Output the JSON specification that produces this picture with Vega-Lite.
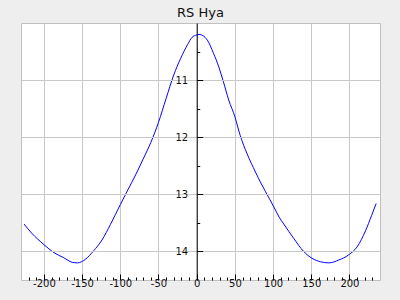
{
  "$schema": "https://vega.github.io/schema/vega-lite/v6.json",
  "autosize": {"type": "none"},
  "padding": {"left": 21, "top": 23, "right": 20, "bottom": 20},
  "width": 359,
  "height": 257,
  "background": "#eeeeee",
  "title": {"text": "RS Hya", "fontSize": 13, "font": "DejaVu Sans", "fontWeight": "normal", "color": "#111111", "baseline": "bottom", "offset": 0, "dy": 10},
  "config": {
    "view": {"fill": "white", "stroke": "#c0c0c0", "strokeWidth": 1},
    "axis": {"labelFont": "DejaVu Sans", "labelFontSize": 10, "labelColor": "#111111", "tickColor": "#000000", "gridColor": "#c8c8c8", "title": null}
  },
  "data": {"values": [
    {"phase": -226, "mag": 13.52},
    {"phase": -216, "mag": 13.68},
    {"phase": -200, "mag": 13.88},
    {"phase": -187, "mag": 14.02},
    {"phase": -174, "mag": 14.11},
    {"phase": -163, "mag": 14.19},
    {"phase": -156, "mag": 14.2},
    {"phase": -146, "mag": 14.14},
    {"phase": -135, "mag": 13.99},
    {"phase": -124, "mag": 13.8},
    {"phase": -113, "mag": 13.53},
    {"phase": -100, "mag": 13.18},
    {"phase": -90, "mag": 12.92},
    {"phase": -80, "mag": 12.66},
    {"phase": -70, "mag": 12.38},
    {"phase": -60, "mag": 12.09},
    {"phase": -50, "mag": 11.74},
    {"phase": -40, "mag": 11.32},
    {"phase": -30, "mag": 10.91},
    {"phase": -21, "mag": 10.62},
    {"phase": -12, "mag": 10.38},
    {"phase": -6, "mag": 10.25},
    {"phase": 0, "mag": 10.21},
    {"phase": 3, "mag": 10.2},
    {"phase": 8, "mag": 10.22},
    {"phase": 14, "mag": 10.3},
    {"phase": 22, "mag": 10.53},
    {"phase": 29, "mag": 10.77},
    {"phase": 35, "mag": 11.03},
    {"phase": 42, "mag": 11.35},
    {"phase": 50, "mag": 11.64},
    {"phase": 57, "mag": 11.97},
    {"phase": 66, "mag": 12.29},
    {"phase": 77, "mag": 12.61},
    {"phase": 84, "mag": 12.8},
    {"phase": 90, "mag": 12.95},
    {"phase": 101, "mag": 13.22},
    {"phase": 108, "mag": 13.4},
    {"phase": 114, "mag": 13.52},
    {"phase": 127, "mag": 13.77},
    {"phase": 140, "mag": 14.0},
    {"phase": 151, "mag": 14.12},
    {"phase": 162, "mag": 14.18},
    {"phase": 173, "mag": 14.2},
    {"phase": 186, "mag": 14.15},
    {"phase": 199, "mag": 14.06},
    {"phase": 210, "mag": 13.92},
    {"phase": 221, "mag": 13.64},
    {"phase": 229, "mag": 13.37},
    {"phase": 235, "mag": 13.16}
  ]},
  "mark": {"type": "line", "color": "#0000ff", "strokeWidth": 1, "clip": true, "interpolate": "monotone"},
  "encoding": {
    "x": {
      "field": "phase", "type": "quantitative",
      "scale": {"domain": [-230, 240], "nice": false, "zero": false},
      "axis": {
        "orient": "bottom",
        "values": [-220,-210,-200,-190,-180,-170,-160,-150,-140,-130,-120,-110,-100,-90,-80,-70,-60,-50,-40,-30,-20,-10,0,10,20,30,40,50,60,70,80,90,100,110,120,130,140,150,160,170,180,190,200,210,220,230],
        "labelExpr": "datum.value % 50 === 0 ? (datum.value < 0 ? '-' + abs(datum.value) : '' + datum.value) : ''",
        "domain": false,
        "grid": true,
        "gridOpacity": {"condition": {"test": "datum.value % 50 === 0", "value": 1}, "value": 0},
        "tickSize": {"condition": {"test": "datum.value % 50 === 0", "value": -6}, "value": -3},
        "labelPadding": 4,
        "labelFlush": false,
        "labelOverlap": false
      }
    },
    "y": {
      "field": "mag", "type": "quantitative",
      "scale": {"domain": [10, 14.5], "nice": false, "zero": false, "reverse": true},
      "axis": {
        "orient": "left",
        "offset": -175.7,
        "values": [10.5, 11, 11.5, 12, 12.5, 13, 13.5, 14],
        "labelExpr": "datum.value % 1 === 0 ? '' + datum.value : ''",
        "domain": true,
        "domainColor": "#000000",
        "grid": true,
        "gridOpacity": {"condition": {"test": "datum.value % 1 === 0", "value": 1}, "value": 0},
        "tickSize": {"condition": {"test": "datum.value % 1 === 0", "value": -6}, "value": -3},
        "labelPadding": 15,
        "labelFlush": false,
        "labelOverlap": false,
        "zindex": 1
      }
    }
  }
}
